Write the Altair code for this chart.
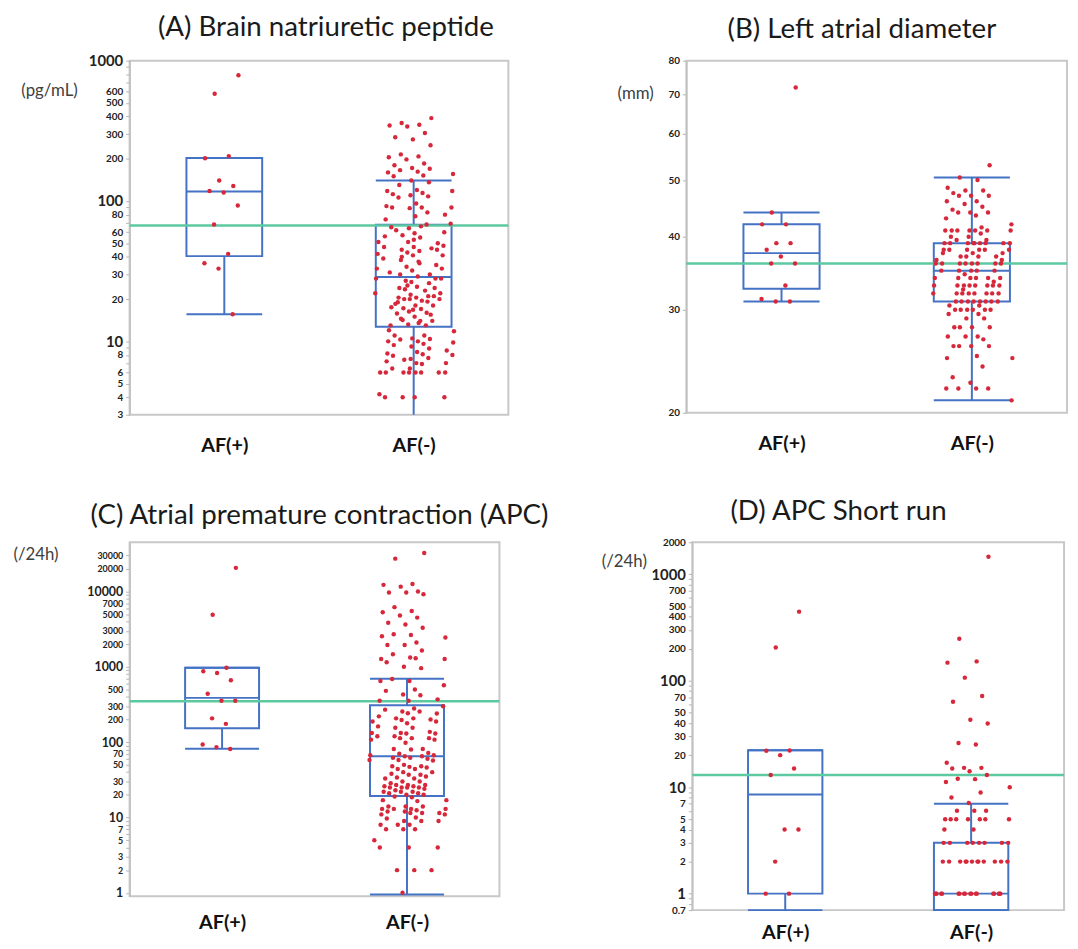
import altair as alt
import pandas as pd

BLUE = "#4472c4"
GREEN = "#5cc9a0"
RED = "#d6283a"
FONT = "Lato"

# ---------------- data ----------------
groups = ["AF(+)", "AF(-)"]

# (A) Brain natriuretic peptide (pg/mL)
A_pos = [788, 581, 209, 202, 140, 128, 118, 115, 93, 68, 42, 36, 33, 15.6]
A_neg = [390, 360, 350, 345, 340, 305, 285, 275, 250, 215, 208, 205, 198, 185, 180, 172, 170, 166,
         162, 160, 156, 152, 150, 140, 136, 130, 120, 118, 118, 114, 112, 110, 108, 106, 96, 92, 90,
         90, 90, 89, 83, 80, 78, 74, 69,
         66, 65, 64, 68, 60, 59, 56, 57, 55, 50, 51, 51, 48, 47, 47, 45, 44, 45, 43, 42, 41, 41, 39,
         38, 37, 35, 34, 33, 33, 32, 30, 30, 29, 28, 27, 28, 28, 26.5, 26, 24, 24.5, 24, 23.5, 22,
         22, 21.5, 21, 20.5, 20.5, 21, 20, 19.5, 20, 20, 19.2, 19, 18, 18, 17.2, 17, 17.5, 16.3, 16,
         15.8, 15, 14, 14.2, 14, 13, 13.2, 13, 62, 53, 46, 40, 36, 31, 25, 23, 18.5, 16.8, 15.5, 14.5,
         13.5,
         12, 11.8, 11, 11, 10.5, 10.4, 10.3, 10, 10, 9.8, 9.6, 9.4, 9.2, 8.9, 8.6, 8.4, 8.2, 8, 8.1,
         7.9, 7.5, 7.6, 7, 7, 7.2, 7.4, 6.9, 6.4, 6.4, 6, 6, 6, 6, 6, 6, 6, 6, 4.2, 4, 4, 4, 4]
A_lo = [15.6, 3]
A_q1 = [40.5, 12.7]
A_med = [117, 28.7]
A_q3 = [203, 67.7]
A_hi = [203, 140]
A_locap = [1, 0]
A_ref = 67

# (B) Left atrial diameter (mm)
B_pos = [72, 44, 42, 42, 39, 39, 38, 37, 36, 36, 33, 31.3, 31, 31]
B_neg = [53, 50.5, 50, 48.5, 48, 48, 47.5, 47, 47, 47, 46, 46, 45.5, 45, 44.5, 44, 44, 44, 43.5, 43,
         42, 41.5, 41, 41, 41, 41, 41, 41, 41, 40.5, 40, 40, 39.5, 39.5,
         39, 39, 39, 39, 39, 39, 39, 39, 39,
         38, 38, 38, 38, 38, 38, 37.5, 37.5, 37.5, 37, 37, 37, 37, 36.5, 36.5,
         36, 36, 36, 36, 36, 36, 36, 36,
         35, 35, 35, 35, 35, 34.5, 34, 34, 34, 34, 34, 34, 33.5,
         33, 33, 33, 33, 33, 33, 33, 33, 32.5,
         32, 32, 32, 32, 32, 32, 32, 32,
         31, 31, 31, 31, 31, 31, 31, 31, 30.5, 30.5,
         30, 30, 30, 30, 30, 30, 29.5, 29.5, 29, 29, 28, 28, 28, 28, 27, 27, 27, 26.7, 26, 26, 26,
         26, 25, 24.8, 24.8, 24, 23, 22.5, 22, 22, 22, 22, 21]
B_lo = [31, 21]
B_q1 = [32.6, 31]
B_med = [37.5, 35]
B_q3 = [42, 39]
B_hi = [44, 50.5]
B_locap = [1, 1]
B_ref = 36

# (C) Atrial premature contraction (/24h)
C_pos = [20600, 4900, 970, 875, 830, 665, 440, 355, 355, 207, 175, 93, 86, 81]
C_neg = [32500, 27300, 12600, 12250, 11600, 10000, 9700, 9700, 9200, 6200, 5500, 5300, 4800, 4500,
         3850, 3650, 3300, 2700, 2650, 2550, 2450, 2100, 1950, 1950, 1650, 1470, 1330, 1270, 1270,
         1300, 1150, 1000, 960, 690, 650, 650, 570, 500, 480, 430, 420, 370, 355, 355, 300,
         280, 270, 255, 255, 240, 242, 220, 207, 207, 200, 197, 188, 188, 178, 162, 155, 155, 137,
         132, 132, 130, 130, 120, 120, 113, 113, 113, 108, 108, 98, 81, 81, 80, 72, 70, 67, 67, 65,
         65, 62, 62, 60, 58, 58, 57, 50, 48, 48, 47, 46, 44, 44, 40, 40, 37, 38, 37, 35, 34, 33, 33,
         30, 30, 28.5, 27, 27, 27, 26, 26, 25, 25, 25, 25, 24, 23, 22, 22, 22, 21, 21, 20, 20,
         19, 18.5, 17, 17, 16.5, 14, 14, 14, 13, 13, 13, 13, 12.5, 12, 12, 11.5, 11.5, 11.5, 11, 11,
         10, 9.7, 9, 9, 9, 8, 8, 8, 7, 7, 7, 5, 4, 4, 4, 2, 2, 2, 1]
C_lo = [81.5, 0.95]
C_q1 = [153, 19.3]
C_med = [387, 65]
C_q3 = [970, 310]
C_hi = [970, 695]
C_locap = [1, 1]
C_ref = 350

# (D) APC short run (/24h)
D_pos = [446, 205, 22.1, 22, 20, 15, 13, 4, 4, 2, 1, 1]
D_neg = [1460, 248, 152, 148, 107, 72, 63.5, 43, 39.6, 26, 25.2, 17, 15.2, 15.2, 15, 14.1, 13, 12,
         11.9, 11.2, 10, 8.9, 8, 7.1, 6, 6, 6, 5, 5, 5, 5, 5, 5, 5, 4, 4,
         3, 3, 3, 3, 3, 3, 3, 3,
         2, 2, 2, 2, 2, 2, 2, 2, 2, 2, 2, 2,
         1, 1, 1, 1, 1, 1, 1, 1, 1, 1, 1, 1, 1, 1, 1, 1, 1, 1]
D_lo = [0.7, 0.7]
D_q1 = [1, 0.7]
D_med = [8.55, 1]
D_q3 = [22.2, 3]
D_hi = [22.2, 7]
D_locap = [1, 1]
D_ref = 13

# axis ticks
A_ticks = [3, 4, 5, 6, 7, 8, 9, 10, 20, 30, 40, 50, 60, 70, 80, 90, 100, 200, 300, 400, 500, 600,
           700, 800, 900, 1000]
A_labels = [3, 4, 5, 6, 8, 10, 20, 30, 40, 50, 60, 80, 100, 200, 300, 400, 500, 600, 1000]
A_big = [10, 100, 1000]
B_ticks = [20, 30, 40, 50, 60, 70, 80]
B_labels = [20, 30, 40, 50, 60, 70, 80]
B_big = []
C_ticks = [1, 2, 3, 4, 5, 6, 7, 8, 9, 10, 20, 30, 40, 50, 60, 70, 80, 90, 100, 200, 300, 400, 500,
           600, 700, 800, 900, 1000, 2000, 3000, 4000, 5000, 6000, 7000, 8000, 9000, 10000, 20000,
           30000]
C_labels = [1, 2, 3, 5, 7, 10, 20, 30, 50, 70, 100, 200, 300, 500, 1000, 2000, 3000, 5000, 7000,
            10000, 20000, 30000]
C_big = [1, 10, 100, 1000, 10000]
D_ticks = [0.7, 0.8, 0.9, 1, 2, 3, 4, 5, 6, 7, 8, 9, 10, 20, 30, 40, 50, 60, 70, 80, 90, 100, 200,
           300, 400, 500, 600, 700, 800, 900, 1000, 2000]
D_labels = [0.7, 1, 2, 3, 4, 5, 7, 10, 20, 30, 40, 50, 70, 100, 200, 300, 400, 500, 700, 1000, 2000]
D_big = [1, 10, 100, 1000]


def panel(title, unit, domain, ticks, labels, big, ref, pos, neg, lo, q1, med, q3, hi, locap,
          width, height, title_dx, unit_x, unit_y, big_size=15, small_size=10, xpad=21):
    pts = pd.DataFrame({"g": [0] * len(pos) + [1] * len(neg), "v": pos + neg})
    st = pd.DataFrame({"g": [0, 1], "lo": lo, "q1": q1, "med": med, "q3": q3, "hi": hi,
                       "locap": locap})
    rf = pd.DataFrame({"r": [ref]})

    big_test = "indexof(%s, datum.value) >= 0" % (str(big) if big else "[-1]")
    yaxis = alt.Axis(
        values=ticks,
        labelExpr="indexof(%s, datum.value) >= 0 ? '' + datum.value : ''" % str(labels),
        labelFontSize={"condition": {"test": big_test, "value": big_size}, "value": small_size},
        labelFont=FONT, labelFontWeight="bold", labelColor="#222222", labelPadding=3,
        labelOverlap=False, labelBound=False, labelFlush=False,
        tickSize=4, tickColor="#b5b5b5", domainColor="#c0c0c0", domainWidth=1.5, grid=False,
        title=unit, titleAngle=0, titleAlign="left", titleBaseline="middle", titleX=unit_x,
        titleY=unit_y, titleFont=FONT, titleFontSize=17, titleFontWeight="normal",
        titleColor="#404040",
    )
    yscale = alt.Scale(type="log", domain=domain, nice=False)
    xaxis = alt.Axis(values=[0, 1], labelExpr="datum.value == 0 ? 'AF(+)' : 'AF(-)'",
                     labelFont=FONT, labelFontSize=20, labelFontWeight="bold",
                     labelColor="#111111", labelPadding=xpad, ticks=False, domain=False,
                     grid=False, title=None)
    xscale = alt.Scale(domain=[-0.5, 1.5], nice=False, zero=False)

    def X(f):
        return alt.X(f + ":Q", scale=xscale, axis=xaxis)

    def Y(f):
        return alt.Y(f + ":Q", scale=yscale, axis=yaxis)

    sb = alt.Chart(st).transform_calculate(xl="datum.g - 0.2", xr="datum.g + 0.2")
    box = sb.mark_rect(fill="transparent", stroke=BLUE, strokeWidth=2).encode(
        x=X("xl"), x2="xr", y=Y("q1"), y2="q3")
    wl = sb.mark_rule(color=BLUE, strokeWidth=2).encode(x=X("g"), y=Y("lo"), y2="q1")
    wh = sb.mark_rule(color=BLUE, strokeWidth=2).encode(x=X("g"), y=Y("q3"), y2="hi")
    caph = sb.mark_rule(color=BLUE, strokeWidth=2).encode(x=X("xl"), x2="xr", y=Y("hi"))
    capl = sb.transform_filter("datum.locap == 1").mark_rule(color=BLUE, strokeWidth=2).encode(
        x=X("xl"), x2="xr", y=Y("lo"))
    medr = sb.mark_rule(color=BLUE, strokeWidth=2).encode(x=X("xl"), x2="xr", y=Y("med"))
    refl = alt.Chart(rf).mark_rule(color=GREEN, strokeWidth=2.5).encode(y=Y("r"))
    # deterministic (quasi-random) horizontal jitter, triangular-shaped around the group centre
    dots = alt.Chart(pts).transform_window(
        rn="row_number()", groupby=["g"]
    ).transform_calculate(
        xj="datum.g + ((datum.rn * 0.618034) % 1 + (datum.rn * 0.754878) % 1 - 1)"
           " * (datum.g == 0 ? 0.2 : 0.25)"
    ).mark_circle(size=20, color=RED, opacity=1).encode(x=X("xj"), y=Y("v"))

    return alt.layer(box, wl, wh, caph, capl, medr, refl, dots).properties(
        width=width, height=height,
        title=alt.TitleParams(title, font=FONT, fontSize=28, fontWeight="normal",
                              color="#1a1a1a", anchor="middle", dx=title_dx, offset=12),
    )


pA = panel("(A) Brain natriuretic peptide", "(pg/mL)", [3, 1000], A_ticks, A_labels, A_big, A_ref,
           A_pos, A_neg, A_lo, A_q1, A_med, A_q3, A_hi, A_locap, 383, 358, 7, -110, 30)
pB = panel("(B) Left atrial diameter", "(mm)", [20, 80], B_ticks, B_labels, B_big, B_ref,
           B_pos, B_neg, B_lo, B_q1, B_med, B_q3, B_hi, B_locap, 385, 356, -15, -70, 33)
pC = panel("(C) Atrial premature contraction (APC)", "(/24h)", [0.9, 45000], C_ticks, C_labels,
           C_big, C_ref, C_pos, C_neg, C_lo, C_q1, C_med, C_q3, C_hi, C_locap, 374, 358, 5, -118, 12,
           big_size=12.5, small_size=9, xpad=17)
pD = panel("(D) APC Short run", "(/24h)", [0.7, 2000], D_ticks, D_labels, D_big, D_ref,
           D_pos, D_neg, D_lo, D_q1, D_med, D_q3, D_hi, D_locap, 376, 372, -40, -92, 20, xpad=13)

chart = alt.vconcat(
    alt.hconcat(pA, pB, spacing=106),
    alt.hconcat(pC, pD, spacing=50),
    spacing=41,
).properties(padding={"left": 4, "top": 0, "right": 0, "bottom": 0}).configure_view(
    stroke="#c8c8c8", strokeWidth=2
)

chart.save("out.html", embed_options={"renderer": "svg", "actions": False})
